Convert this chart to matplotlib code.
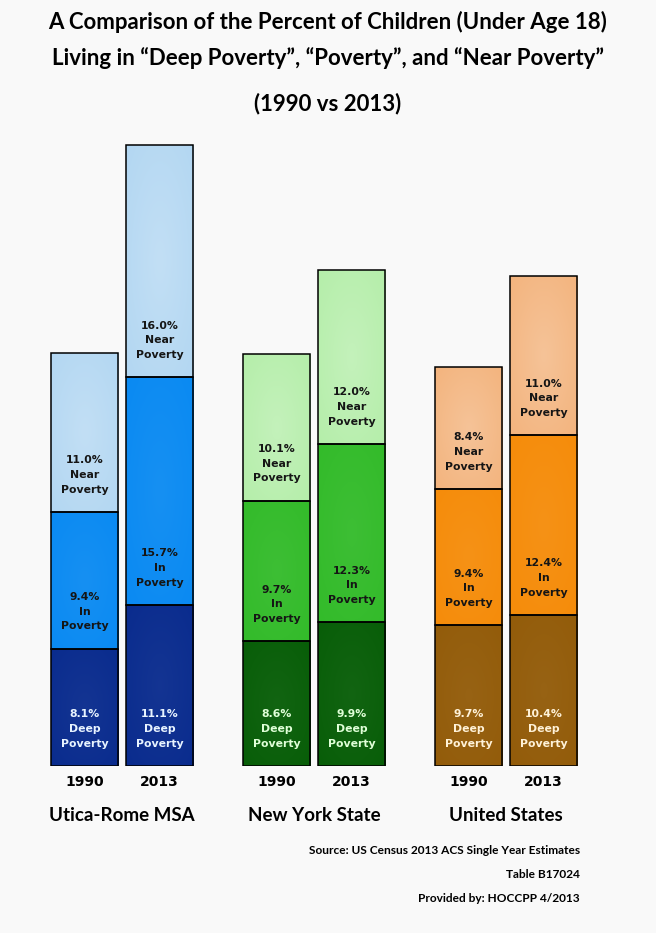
import numpy as np
import matplotlib
matplotlib.use("Agg")
import matplotlib.pyplot as plt
from matplotlib.colors import to_rgb

# data
regions = ["Utica-Rome MSA", "New York State", "United States"]
years = ["1990", "2013"]
deep = [8.1, 11.1, 8.6, 9.9, 9.7, 10.4]
in_pov = [9.4, 15.7, 9.7, 12.3, 9.4, 12.4]
near = [11.0, 16.0, 10.1, 12.0, 8.4, 11.0]

# colours per region: (deep, in poverty, near poverty)
colours = [
    ("#0a2c8e", "#0a8af2", "#b3d7f2"),
    ("#085e08", "#33bb2a", "#b5eeaa"),
    ("#935c0a", "#f58c0a", "#f3b47e"),
]
deep_txt = ["#e8f4ff", "#e0ffd8", "#fff2d8"]

bg = "#f9f9f9"
fig = plt.figure(figsize=(6.56, 9.33), dpi=100, facecolor=bg)
ax = fig.add_axes([0, (933 - 766) / 933, 1, 636 / 933])
ax.set_facecolor(bg)
ax.set_xlim(-0.635, 2.781)
ax.set_ylim(0, 636 / 14.5)
ax.axis("off")

off = 0.195
width = 0.349
xs = []
for g in range(len(regions)):
    xs += [g - off, g + off]
xs = np.array(xs)
cols = [c for c in colours for _ in years]


def lighten(c, f):
    r = np.array(to_rgb(c))
    return r + (1 - r) * f


def gradient(patch, base, f):
    x0, y0 = patch.get_x(), patch.get_y()
    w, h = patch.get_width(), patch.get_height()
    yy, xx = np.mgrid[-1:1:80j, -1:1:40j]
    d = np.clip(np.sqrt(xx ** 2 + yy ** 2) / 1.4, 0, 1)[..., None]
    c0 = lighten(base, f)
    c1 = np.array(to_rgb(base))
    img = c0 * (1 - d) + c1 * d
    im = ax.imshow(img, extent=[x0, x0 + w, y0, y0 + h], aspect="auto",
                   zorder=2, interpolation="bilinear")
    im.set_clip_path(patch)


bottoms = np.zeros(len(xs))
layers = [(deep, "Deep\nPoverty", 0, 0.04), (in_pov, "In\nPoverty", 1, 0.05),
          (near, "Near\nPoverty", 2, 0.2)]
for vals, name, k, f in layers:
    fc = [c[k] for c in cols]
    bars = ax.bar(xs, vals, width, bottom=bottoms, color=fc, edgecolor="black",
                  linewidth=1.1, zorder=3)
    for i, b in enumerate(bars):
        b.set_facecolor("none")
        gradient(b, fc[i], f)
        tc = deep_txt[i // 2] if k == 0 else "#151515"
        ax.text(xs[i], bottoms[i] + 2.55, f"{vals[i]:.1f}%\n{name}", ha="center",
                va="center", fontsize=7.8, fontweight="bold", color=tc,
                linespacing=1.6, zorder=4, family="DejaVu Sans")
    bottoms = bottoms + np.array(vals)

for i, x in enumerate(xs):
    ax.text(x, -1.1, years[i % 2], ha="center", va="center", fontsize=10,
            fontweight="bold", family="DejaVu Sans")
for g, r in enumerate(regions):
    ax.text(g, -3.4, r, ha="center", va="center", fontsize=13.5,
            fontweight="bold", family="Lato", clip_on=False)

title = ["A Comparison of the Percent of Children (Under Age 18)",
         "Living in \u201cDeep Poverty\u201d, \u201cPoverty\u201d, and \u201cNear Poverty\u201d",
         "(1990 vs 2013)"]
for line, y in zip(title, [22, 58, 104]):
    fig.text(0.5, 1 - y / 933, line, ha="center", va="center", fontsize=16,
             fontweight="bold", family="Lato")

notes = ["Source: US Census 2013 ACS Single Year Estimates", "Table B17024",
         "Provided by: HOCCPP 4/2013"]
for line, y in zip(notes, [850, 874, 898]):
    fig.text(580 / 656, 1 - y / 933, line, ha="right", va="center", fontsize=8.6,
             fontweight="bold", family="Lato")

fig.savefig("out.png", dpi=100, facecolor=bg)
